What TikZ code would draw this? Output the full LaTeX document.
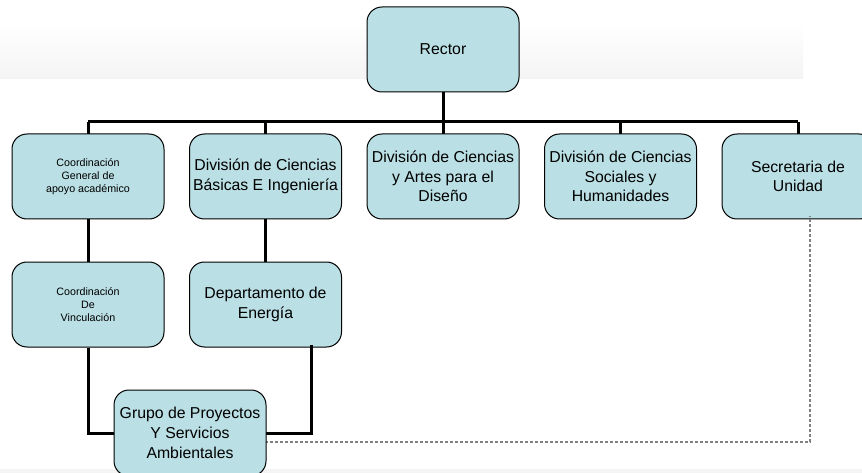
\documentclass[tikz,border=0pt]{standalone}
\usepackage{fontspec}
\setmainfont{Liberation Sans}
\definecolor{boxfill}{RGB}{186,223,228}
\definecolor{bandgray}{RGB}{244,244,244}
\begin{document}
\begin{tikzpicture}[x=1pt,y=-1pt,
  orgbox/.style={draw=black, line width=1pt, fill=boxfill, rounded corners=15pt,
    minimum width=152pt, minimum height=85pt, inner sep=0pt, align=center,
    font=\fontsize{15.8}{19.7}\selectfont},
  smallbox/.style={orgbox, font=\fontsize{10.7}{13.3}\selectfont},
  link/.style={draw=black, line width=3pt},
  dotlink/.style={draw=gray, line width=1.3pt, dash pattern=on 3pt off 2pt}]
\clip (0,0) rectangle (862,473);
\fill[white] (0,0) rectangle (862,473);
\shade[top color=white, bottom color=bandgray] (0,20) rectangle (803,79);
\fill[bandgray] (0,469) rectangle (862,473);

\coordinate (bus) at (443,122);

\draw[link] (88,122) -- (798,122);
\draw[link] (443,92) -- (bus);
\foreach \xx in {88,265.5,443,620.5,798} \draw[link] (\xx,122) -- (\xx,136);
\draw[link] (88,215) -- (88,266);
\draw[link] (265.5,215) -- (265.5,266);

\node[orgbox] (rector) at (443,49.5) {Rector};
\node[smallbox] (coordgen) at (88,176.5) {Coordinación\\General de\\apoyo académico};
\node[orgbox] (cbi) at (265.5,176.5) {División de Ciencias\\Básicas E Ingeniería};
\node[orgbox] (cad) at (443,176.5) {División de Ciencias\\y Artes para el\\Diseño};
\node[orgbox] (csh) at (620.5,176.5) {División de Ciencias\\Sociales y\\Humanidades};
\node[orgbox] (sec) at (798,176.5) {Secretaria de\\Unidad};
\node[smallbox] (vinc) at (88,304.5) {Coordinación\\De\\Vinculación};
\node[orgbox] (dep) at (265.5,304.5) {Departamento de\\Energía};

\draw[link] (rector.south) -- (bus);
\draw[link] (vinc.south) |- (190,433);
\draw[link] ([xshift=45.5pt,yshift=3pt]dep.south) |- (190,433);
\draw[dotlink] (190,442) -| ([xshift=12pt,yshift=3pt]sec.south);

\node[orgbox, minimum height=86pt] (grupo) at (190,433) {Grupo de Proyectos\\Y Servicios\\Ambientales};
\end{tikzpicture}
\end{document}
